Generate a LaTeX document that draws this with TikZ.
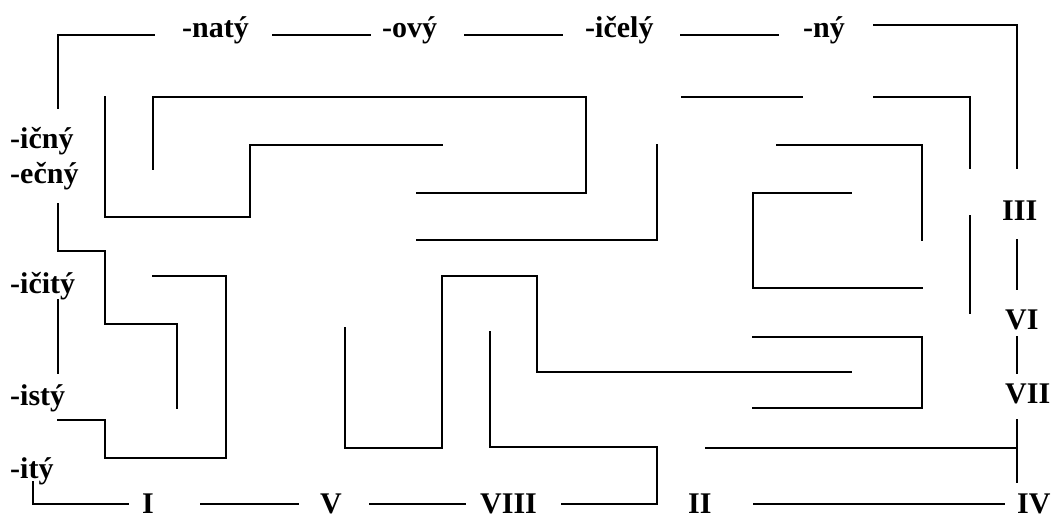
\documentclass[tikz,border=0pt]{standalone}
\usepackage{fontspec}
\setmainfont{Liberation Serif}
\begin{document}
\begin{tikzpicture}[x=1pt,y=-1pt,
  wall/.style={line width=1.8pt,line join=miter,line cap=rect},
  lab/.style={inner sep=0pt,anchor=base west,font=\fontsize{30}{36}\selectfont\bfseries}]
\useasboundingbox (0,0) rectangle (1054,515);
% labels
\node[lab] (nat) at (182,37) {-natý};
\node[lab] (ov) at (382,37) {-ový};
\node[lab] (icel) at (585,37) {-ičelý};
\node[lab] (ny) at (803,37) {-ný};
\node[lab] (icn) at (10,148) {-ičný};
\node[lab] (ecn) at (10,183) {-ečný};
\node[lab] (icit) at (10,293) {-ičitý};
\node[lab] (ist) at (10,405) {-istý};
\node[lab] (it) at (10,478) {-itý};
\node[lab] (r3) at (1002,220) {III};
\node[lab] (r6) at (1005,329) {VI};
\node[lab] (r7) at (1005,403) {VII};
\node[lab] (r1) at (142,513) {I};
\node[lab] (r5) at (320,513) {V};
\node[lab] (r8) at (480,513) {VIII};
\node[lab] (r2) at (688,513) {II};
\node[lab] (r4) at (1017,513) {IV};
% maze walls
\draw[wall] (154,35)--(58,35)--(58,108);
\draw[wall] (273,35)--(370,35);
\draw[wall] (465,35)--(562,35);
\draw[wall] (681,35)--(778,35);
\draw[wall] (874,25)--(1017,25)--(1017,168);
\draw[wall] (1017,240)--(1017,289);
\draw[wall] (1017,337)--(1017,373);
\draw[wall] (1017,420)--(1017,482);
\draw[wall] (706,448)--(1017,448);
\draw[wall] (754,504)--(1004,504);
\draw[wall] (33,482)--(33,504)--(128,504);
\draw[wall] (201,504)--(298,504);
\draw[wall] (370,504)--(465,504);
\draw[wall] (562,504)--(657,504)--(657,447)--(490,447)--(490,332);
\draw[wall] (58,204)--(58,251)--(105,251)--(105,324)--(177,324)--(177,408);
\draw[wall] (58,300)--(58,373);
\draw[wall] (58,420)--(105,420)--(105,458)--(226,458)--(226,276)--(153,276);
\draw[wall] (105,97)--(105,217)--(250,217)--(250,145)--(442,145);
\draw[wall] (153,169)--(153,97)--(586,97)--(586,193)--(417,193);
\draw[wall] (417,240)--(657,240)--(657,145);
\draw[wall] (682,97)--(802,97);
\draw[wall] (874,97)--(970,97)--(970,168);
\draw[wall] (777,145)--(922,145)--(922,240);
\draw[wall] (851,193)--(753,193)--(753,288)--(922,288);
\draw[wall] (970,216)--(970,313);
\draw[wall] (753,337)--(922,337)--(922,408)--(753,408);
\draw[wall] (851,372)--(537,372)--(537,276)--(442,276)--(442,448)--(345,448)--(345,328);
\end{tikzpicture}
\end{document}
